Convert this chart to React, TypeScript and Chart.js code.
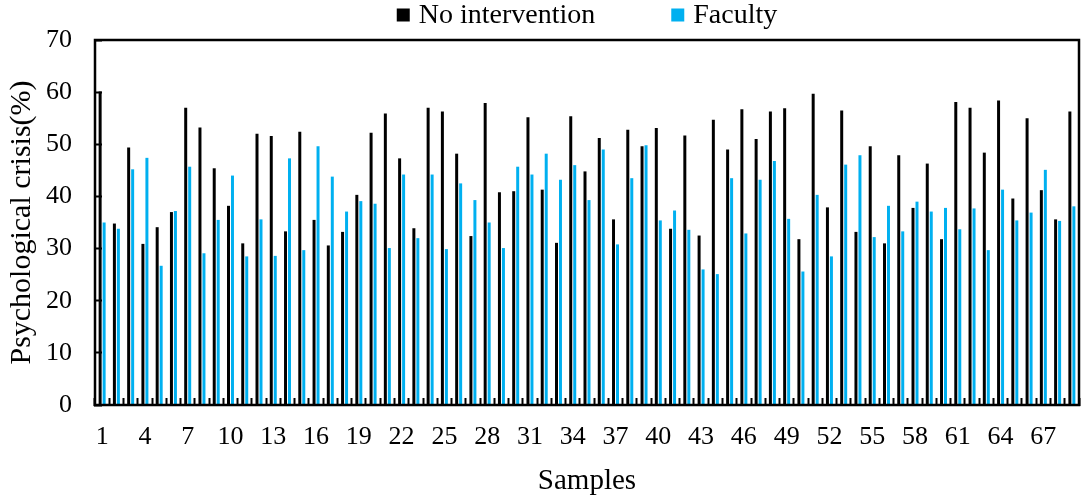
import React, { useEffect, useRef } from 'react';
import { Chart, registerables } from 'chart.js';

Chart.register(...registerables);

const samples = Array.from({ length: 69 }, (_, i) => String(i + 1));

const noIntervention = [
  60.1, 34.8, 49.4, 30.9, 34.1, 37.0, 57.0, 53.2, 45.4, 38.2,
  31.0, 52.0, 51.6, 33.3, 52.4, 35.5, 30.6, 33.2, 40.3, 52.2,
  55.9, 47.3, 33.9, 57.0, 56.3, 48.2, 32.4, 57.9, 40.8, 41.0,
  55.2, 41.3, 31.1, 55.4, 44.8, 51.2, 35.6, 52.8, 49.6, 53.1,
  33.8, 51.7, 32.5, 54.7, 49.0, 56.7, 51.0, 56.3, 56.9, 31.8,
  59.7, 37.9, 56.5, 33.2, 49.6, 31.0, 47.9, 37.8, 46.3, 31.8,
  58.1, 57.0, 48.4, 58.4, 39.6, 55.0, 41.2, 35.6, 56.3,
];

const faculty = [
  35.0, 33.8, 45.2, 47.4, 26.7, 37.2, 45.7, 29.1, 35.5, 44.0,
  28.5, 35.6, 28.6, 47.3, 29.7, 49.6, 43.8, 37.1, 39.1, 38.6,
  30.1, 44.2, 32.0, 44.2, 29.9, 42.5, 39.3, 35.0, 30.1, 45.7,
  44.2, 48.2, 43.2, 46.0, 39.3, 49.0, 30.8, 43.5, 49.8, 35.4,
  37.3, 33.6, 26.0, 25.1, 43.5, 32.9, 43.2, 46.8, 35.7, 25.6,
  40.3, 28.5, 46.1, 47.9, 32.2, 38.2, 33.3, 39.0, 37.1, 37.8,
  33.7, 37.7, 29.7, 41.3, 35.4, 36.9, 45.1, 35.3, 38.1,
];

const SERIF = '"Liberation Serif", "Times New Roman", serif';

// box round the plot area, drawn last over everything
const framePlugin = {
  id: 'plotFrame',
  afterDraw(chart: any) {
    const { ctx, chartArea } = chart;
    ctx.save();
    ctx.strokeStyle = '#000';
    ctx.lineWidth = 2.5;
    ctx.strokeRect(
      Math.round(chartArea.left),
      Math.round(chartArea.top),
      Math.round(chartArea.right - chartArea.left),
      Math.round(chartArea.bottom - chartArea.top),
    );
    ctx.restore();
  },
};

// legend centred over the plot, wide gap between the two entries
const topLegendPlugin = {
  id: 'topLegend',
  afterDraw(chart: any) {
    const { ctx, chartArea } = chart;
    const box = 13;
    const gap = 76;
    ctx.save();
    ctx.font = `28px ${SERIF}`;
    ctx.textBaseline = 'middle';
    const items = chart.data.datasets.map((ds: any) => ({
      text: ds.label,
      color: ds.backgroundColor,
      w: box + 9 + ctx.measureText(ds.label).width,
    }));
    const total = items.reduce((s: number, it: any) => s + it.w, 0) + gap * (items.length - 1);
    let x = (chartArea.left + chartArea.right) / 2 - total / 2;
    const y = 15;
    items.forEach((it: any) => {
      ctx.fillStyle = it.color;
      ctx.fillRect(x, y - box / 2, box, box);
      ctx.fillStyle = '#000';
      ctx.fillText(it.text, x + box + 9, y + 1);
      x += it.w + gap;
    });
    ctx.restore();
  },
};

const BarChart = () => {
  const canvasRef = useRef<HTMLCanvasElement>(null);

  useEffect(() => {
    if (!canvasRef.current) return () => {};
    const chart = new Chart(canvasRef.current, {
      type: 'bar',
      data: {
        labels: samples,
        datasets: [
          {
            label: 'No intervention',
            data: noIntervention,
            backgroundColor: '#000000',
            categoryPercentage: 0.56,
            barPercentage: 0.75,
          },
          {
            label: 'Faculty',
            data: faculty,
            backgroundColor: '#00B0F0',
            categoryPercentage: 0.56,
            barPercentage: 0.75,
          },
        ],
      },
      options: {
        animation: false,
        responsive: true,
        maintainAspectRatio: false,
        layout: { padding: { top: 40, right: 5, left: 0, bottom: 0 } },
        plugins: {
          legend: { display: false },
          tooltip: { enabled: false },
        },
        scales: {
          x: {
            offset: true,
            border: { color: '#000', width: 2 },
            grid: {
              offset: true,
              drawOnChartArea: false,
              drawTicks: true,
              tickLength: -7,
              tickWidth: 2,
              tickColor: '#000',
            },
            ticks: {
              autoSkip: false,
              maxRotation: 0,
              minRotation: 0,
              padding: 24,
              color: '#000',
              font: { family: SERIF, size: 26 },
              callback: (_v: any, i: number) => (i % 3 === 0 ? samples[i] : ''),
            },
            title: {
              display: true,
              text: 'Samples',
              color: '#000',
              font: { family: SERIF, size: 29 },
              padding: { top: 0, bottom: 2 },
            },
            afterFit(scale: any) {
              scale.height = 96;
              scale.paddingLeft = 0;
              scale.paddingRight = 0;
            },
          },
          y: {
            min: 0,
            max: 70,
            border: { color: '#000', width: 2 },
            grid: {
              drawOnChartArea: false,
              drawTicks: true,
              tickLength: -7,
              tickWidth: 2,
              tickColor: '#000',
            },
            ticks: {
              stepSize: 10,
              padding: 30,
              color: '#000',
              font: { family: SERIF, size: 26 },
            },
            title: {
              display: true,
              text: 'Psychological crisis(%)',
              color: '#000',
              font: { family: SERIF, size: 30 },
              padding: { top: 4, bottom: 0 },
            },
            afterFit(scale: any) {
              scale.width = 95;
              scale.paddingTop = 0;
              scale.paddingBottom = 0;
            },
          },
        },
      },
      plugins: [framePlugin, topLegendPlugin],
    });

    return () => {
      chart.destroy();
    };
  }, []);

  return (
    <div style={{ position: 'absolute', left: 0, top: 0, width: 1084, height: 501, background: '#fff' }}>
      <canvas ref={canvasRef} />
    </div>
  );
};

export default function App() {
  return <BarChart />;
}
